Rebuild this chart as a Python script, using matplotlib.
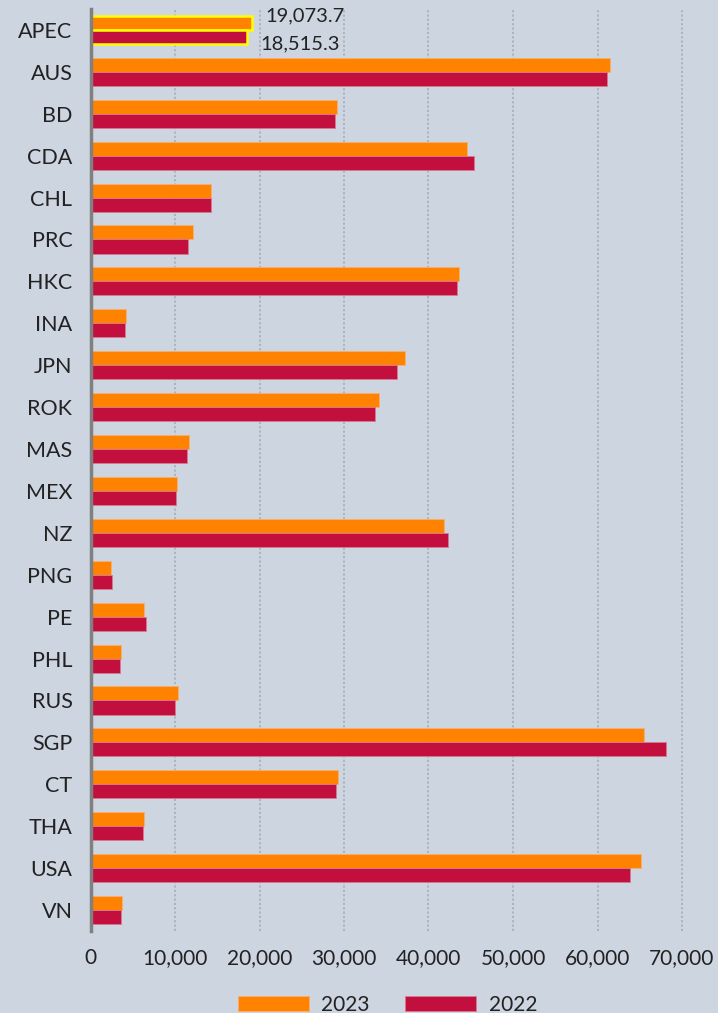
import matplotlib
matplotlib.use("Agg")
import matplotlib.pyplot as plt
from matplotlib.patches import Patch
from matplotlib.ticker import FuncFormatter, MultipleLocator

plt.rcParams['font.family'] = ['Lato', 'DejaVu Sans']

categories = ["APEC", "AUS", "BD", "CDA", "CHL", "PRC", "HKC", "INA", "JPN", "ROK", "MAS",
              "MEX", "NZ", "PNG", "PE", "PHL", "RUS", "SGP", "CT", "THA", "USA", "VN"]
values_2023 = [19073.7, 61480, 29130, 44560, 14260, 12130, 43650, 4200, 37180, 34140, 11660,
               10240, 41800, 2470, 6370, 3650, 10400, 65530, 29340, 6360, 65100, 3760]
values_2022 = [18515.3, 61090, 28970, 45380, 14300, 11540, 43370, 4040, 36310, 33710, 11420,
               10120, 42350, 2500, 6530, 3490, 9960, 68130, 29010, 6200, 63850, 3600]
series_labels = ["2023", "2022"]

BG = "#cdd5e1"
ORANGE = "#ff8300"
CRIMSON = "#c20f3d"
TXT = "#222222"
FW = "normal"

W, H = 718, 1013
fig = plt.figure(figsize=(W / 100, H / 100), dpi=100, facecolor=BG)
ax = fig.add_axes([90.5 / W, (H - 931) / H, (W - 90.5) / W, 922 / H])
ax.set_facecolor(BG)

y = list(range(len(categories)))
h = 0.335
bars23 = ax.barh([v - h / 2 for v in y], values_2023, height=h, color=ORANGE,
                 edgecolor="#f5b070", linewidth=0.6, zorder=3)
bars22 = ax.barh([v + h / 2 for v in y], values_2022, height=h, color=CRIMSON,
                 edgecolor="#d77a93", linewidth=0.6, zorder=3)
for b in (bars23[0], bars22[0]):
    b.set_edgecolor("#ffff00")
    b.set_linewidth(1.8)

ax.set_ylim(len(categories) - 0.5, -0.5)
ax.set_xlim(0, (W - 90.5) / 8.45 * 1000)
ax.set_yticks(y)
ax.set_yticklabels(categories)
ax.xaxis.set_major_locator(MultipleLocator(10000))
ax.xaxis.set_major_formatter(FuncFormatter(lambda v, p: f"{int(v):,}"))

for lab in ax.get_yticklabels():
    lab.set_fontsize(15.5)
    lab.set_fontweight(FW)
    lab.set_color(TXT)
for lab in ax.get_xticklabels():
    lab.set_fontsize(15)
    lab.set_fontweight(FW)
    lab.set_color(TXT)
ax.tick_params(axis="y", length=0, pad=13)
ax.tick_params(axis="x", length=0, pad=12)

ax.grid(axis="x", color="#a9b1bd", linestyle=(0, (1.2, 1.2)), linewidth=1.3, zorder=0)
ax.grid(axis="y", visible=False)
for s in ["top", "right", "bottom"]:
    ax.spines[s].set_visible(False)
ax.spines["left"].set_color("#808080")
ax.spines["left"].set_linewidth(2.5)
ax.spines["left"].set_zorder(5)

ax.annotate(f"{values_2023[0]:,.1f}", xy=(values_2023[0], 0 - h / 2), xytext=(10, 5),
            textcoords="offset points", ha="left", va="center", fontsize=14.5,
            fontweight=FW, color=TXT)
ax.annotate(f"{values_2022[0]:,.1f}", xy=(values_2022[0], 0 + h / 2), xytext=(10, -5),
            textcoords="offset points", ha="left", va="center", fontsize=14.5,
            fontweight=FW, color=TXT)

handles = [Patch(facecolor=ORANGE, edgecolor="#f5b070", linewidth=0.6),
           Patch(facecolor=CRIMSON, edgecolor="#d77a93", linewidth=0.6)]
leg = fig.legend(handles, series_labels, loc="center", bbox_to_anchor=(387.5 / W, 8 / H),
                 ncol=2, frameon=False, fontsize=15, handlelength=3.4, handleheight=0.72,
                 handletextpad=0.6, columnspacing=1.7, borderpad=0)
for t in leg.get_texts():
    t.set_fontweight(FW)
    t.set_color(TXT)

fig.savefig("out.png", dpi=100, facecolor=BG)
